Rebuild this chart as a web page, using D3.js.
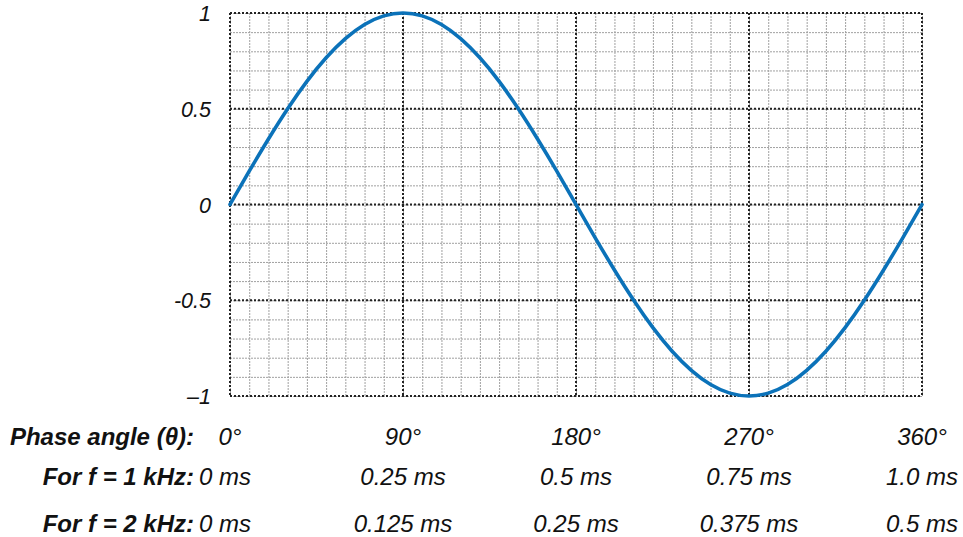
<!DOCTYPE html>
<html>
<head>
<meta charset="utf-8">
<script src="https://cdn.jsdelivr.net/npm/d3@7"></script>
<style>
  html, body { margin: 0; padding: 0; background: #fff; }
  svg { display: block; font-family: "Liberation Sans", Arial, sans-serif; }
</style>
</head>
<body>
<svg id="chart" width="963" height="537"></svg>
<script>
// ---- data ----
const phaseAngles = [0,10,20,30,40,50,60,70,80,90,100,110,120,130,140,150,160,170,180,
                     190,200,210,220,230,240,250,260,270,280,290,300,310,320,330,340,350,360];
const amplitude = [0,0.174,0.342,0.5,0.643,0.766,0.866,0.94,0.985,1,0.985,0.94,0.866,0.766,0.643,0.5,0.342,0.174,0,
                   -0.174,-0.342,-0.5,-0.643,-0.766,-0.866,-0.94,-0.985,-1,-0.985,-0.94,-0.866,-0.766,-0.643,-0.5,-0.342,-0.174,0];
const phaseTicks = [0, 90, 180, 270, 360];
const phaseLabels = ["0°", "90°", "180°", "270°", "360°"];
const ms1kLabels = ["0 ms", "0.25 ms", "0.5 ms", "0.75 ms", "1.0 ms"];
const ms2kLabels = ["0 ms", "0.125 ms", "0.25 ms", "0.375 ms", "0.5 ms"];
const yTicks = [1, 0.5, 0, -0.5, -1];
const yTickLabels = ["1", "0.5", "0", "-0.5", "\u20131"];
const rowTitles = ["Phase angle (\u03B8):", "For f = 1 kHz:", "For f = 2 kHz:"];
const xMinorStep = 10, yMinorStep = 0.1;

// ---- drawing ----
const svg = d3.select("#chart");
const x = d3.scaleLinear().domain([0, 360]).range([230, 922]);
const y = d3.scaleLinear().domain([-1, 1]).range([396, 13]);

const xMinor = d3.range(0, 360 + 1e-9, xMinorStep);
const yMinor = d3.range(-1, 1 + 1e-9, yMinorStep).map(v => Math.round(v * 10) / 10);

const grid = svg.append("g");
// minor grid
grid.selectAll(".vminor").data(xMinor).join("line")
  .attr("x1", d => x(d) + 0.5).attr("x2", d => x(d) + 0.5)
  .attr("y1", y(1)).attr("y2", y(-1))
  .attr("stroke", "#a0a0a0").attr("stroke-width", 1).attr("stroke-dasharray", "2,1");
grid.selectAll(".hminor").data(yMinor).join("line")
  .attr("y1", d => y(d) + 0.5).attr("y2", d => y(d) + 0.5)
  .attr("x1", x(0)).attr("x2", x(360))
  .attr("stroke", "#a0a0a0").attr("stroke-width", 1).attr("stroke-dasharray", "2,1");
// major grid
grid.selectAll(".vmajor").data(phaseTicks).join("line")
  .attr("x1", d => x(d)).attr("x2", d => x(d))
  .attr("y1", y(1)).attr("y2", y(-1))
  .attr("stroke", "#222").attr("stroke-width", 2).attr("stroke-dasharray", "2,2");
grid.selectAll(".hmajor").data(yTicks).join("line")
  .attr("y1", d => y(d)).attr("y2", d => y(d))
  .attr("x1", x(0)).attr("x2", x(360))
  .attr("stroke", "#222").attr("stroke-width", 2).attr("stroke-dasharray", "2,2");

// curve
const pts = phaseAngles.map((a, i) => [a, amplitude[i]]);
svg.append("path")
  .datum(pts)
  .attr("fill", "none")
  .attr("stroke", "#0b72b9")
  .attr("stroke-width", 3.6)
  .attr("stroke-linecap", "round")
  .attr("d", d3.line().x(d => x(d[0])).y(d => y(d[1])).curve(d3.curveNatural));

// y tick labels
svg.append("g").selectAll("text").data(yTicks).join("text")
  .attr("x", 211)
  .attr("y", d => y(d) + 8)
  .attr("text-anchor", "end")
  .attr("font-size", 21.5)
  .attr("font-style", "italic")
  .attr("fill", "#111")
  .text((d, i) => yTickLabels[i]);

// bottom rows
const rowY = [445, 485, 532];
const rows = [phaseLabels, ms1kLabels, ms2kLabels];
rows.forEach((labels, r) => {
  svg.append("text")
    .attr("x", 194).attr("y", rowY[r])
    .attr("text-anchor", "end")
    .attr("font-size", 24)
    .attr("font-weight", "bold")
    .attr("font-style", "italic")
    .attr("fill", "#111")
    .text(rowTitles[r]);
  svg.append("g").selectAll("text").data(phaseTicks).join("text")
    .attr("x", (d, i) => x(d) + (i === 0 && r > 0 ? -5 : 0))
    .attr("y", rowY[r])
    .attr("text-anchor", "middle")
    .attr("font-size", 24)
    .attr("font-style", "italic")
    .attr("fill", "#111")
    .text((d, i) => labels[i]);
});
</script>
</body>
</html>
